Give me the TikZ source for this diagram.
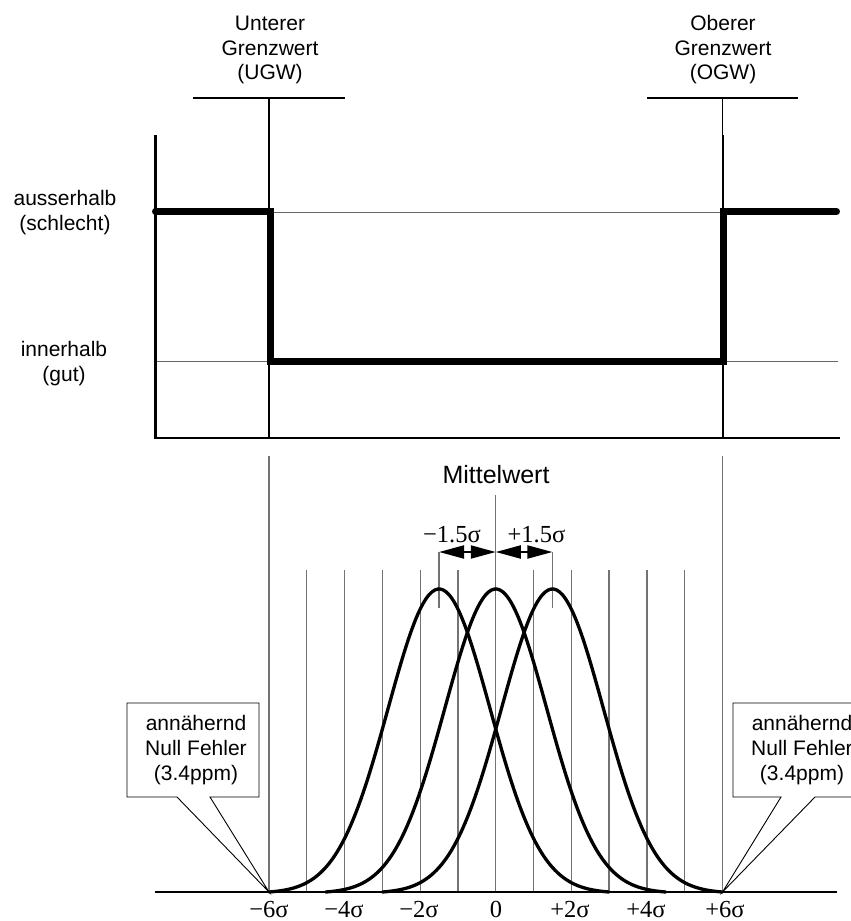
\documentclass[tikz,border=0pt]{standalone}
\usepackage{fontspec}
\setmainfont{Liberation Sans}
\newfontfamily\serifsig{Liberation Serif}
\usetikzlibrary{arrows.meta}
\begin{document}
\begin{tikzpicture}[x=1pt,y=-1pt,
  lbl/.style={font=\fontsize{21}{25}\selectfont, inner sep=0pt, anchor=base},
  big/.style={font=\fontsize{25}{30}\selectfont, inner sep=0pt, anchor=base},
  sig/.style={font=\serifsig\fontsize{24.5}{28}\selectfont, inner sep=0pt, anchor=base},
  gridline/.style={line width=1.3pt, draw=black!55},
  thinline/.style={line width=1pt, draw=black!60},
  axisline/.style={line width=2.5pt, draw=black},
  stepline/.style={line width=7pt, draw=black, line cap=round, line join=miter},
  curve/.style={line width=3.3pt, draw=black, line cap=round},
  callout/.style={line width=0.9pt, draw=black, fill=white, line join=miter},
  dblarrow/.style={line width=2pt, {Triangle[length=25pt,width=13pt]}-{Triangle[length=25pt,width=13pt]}}
]
\useasboundingbox (0,0) rectangle (851,921);
\clip (0,0) rectangle (851,921);

% ---------- top panel ----------
\coordinate (ugwTop) at (269,98);
\coordinate (ogwTop) at (722.5,98);
\coordinate (ugwMid) at (269,135);
\coordinate (ogwMid) at (722.5,135);
\coordinate (ugwAx) at (269,438);
\coordinate (ogwAx) at (722.5,438);
\coordinate (axTop) at (155.5,135);
\coordinate (axOrig) at (155.5,438);
\coordinate (axEnd) at (840,438);

% thin reference lines
\draw[thinline] (269,212) -- (722.5,212);
\draw[thinline] (155.5,361) -- (269,361);
\draw[thinline] (722.5,361) -- (838,361);

% limit markers
\draw[line width=1.6pt] (193,98) -- (345,98);
\draw[line width=1.6pt] (647,98) -- (798,98);
\draw[line width=1.2pt] (ugwTop) -- (ugwMid);
\draw[line width=1.2pt] (ogwTop) -- (ogwMid);
\draw[line width=2pt] (ugwMid) -- (ugwAx);
\draw[line width=2pt] (ogwMid) -- (ogwAx);

% axes
\draw[axisline] (axTop) -- (axOrig) -- (axEnd);

% step function
\draw[stepline] (155.5,211.5) -- (270.5,211.5) -- (270.5,361) -- (723.5,361) -- (723.5,211.5) -- (836.5,211.5);

% labels top
\node[lbl] (u1) at (270,30) {Unterer};
\node[lbl] (u2) at (270,55) {Grenzwert};
\node[lbl] (u3) at (270,79.5) {(UGW)};
\node[lbl] (o1) at (723,30) {Oberer};
\node[lbl] (o2) at (723,55) {Grenzwert};
\node[lbl] (o3) at (723,79.5) {(OGW)};

\node[lbl] (a1) at (65,205) {ausserhalb};
\node[lbl] (a2) at (65,230.5) {(schlecht)};
\node[lbl] (i1) at (64,356.5) {innerhalb};
\node[lbl] (i2) at (64,381.5) {(gut)};

% ---------- bottom panel ----------
\def\cx{495.75}
\def\sg{37.79}
\coordinate (base0) at (155,892);
\coordinate (base1) at (837,892);
\coordinate (lsl) at (269,892);
\coordinate (usl) at (722.5,892);

% grid lines
\foreach \k in {-5,-4,-3,-2,-1,1,2,3,4,5}{
  \draw[gridline] ({\cx+\sg*\k},570) -- ({\cx+\sg*\k},892);
}
\draw[gridline] (\cx,495) -- (\cx,892);
\draw[gridline] (269,456) -- (lsl);
\draw[gridline] (722.5,456) -- (usl);
% shift markers
\draw[gridline] ({\cx-1.5*\sg},552) -- ({\cx-1.5*\sg},608);
\draw[gridline] ({\cx+1.5*\sg},552) -- ({\cx+1.5*\sg},608);

% baseline
\draw[line width=1.5pt] (base0) -- (base1);

% curves
\foreach \m in {-1.5,0,1.5}{
  \draw[curve] plot[domain=-4.5:4.5, samples=120, smooth]
    ({\cx+\sg*(\m+\x)}, {892-303*(exp(-(\x*\x)/3.645)-0.00386)/(1-0.00386)});
}

% arrows
\coordinate (mL) at ({\cx-1.5*\sg},552);
\coordinate (mC) at (\cx,552);
\coordinate (mR) at ({\cx+1.5*\sg},552);
\draw[dblarrow] (mL) -- (mC);
\draw[dblarrow] (mC) -- (mR);

\node[big] (mw) at (496,483) {Mittelwert};
\node[sig] (sm) at (452,542) {−1.5σ};
\node[sig] (sp) at (536.5,542) {+1.5σ};

% callouts
\draw[callout] (127,703) -- (259,703) -- (259,797) -- (210,797) -- (lsl) -- (177,797) -- (127,797) -- cycle;
\draw[callout] (733,703) -- (866,703) -- (866,797) -- (815,797) -- (usl) -- (781,797) -- (733,797) -- cycle;
\node[lbl] (c1) at (196,730) {annähernd};
\node[lbl] (c2) at (196,755) {Null Fehler};
\node[lbl] (c3) at (196,780) {(3.4ppm)};
\node[lbl] (d1) at (802,730) {annähernd};
\node[lbl] (d2) at (802,755) {Null Fehler};
\node[lbl] (d3) at (802,780) {(3.4ppm)};

% axis labels
\node[sig] (s1) at (269,917) {−6σ};
\node[sig] (s2) at (344,917) {−4σ};
\node[sig] (s3) at (419,917) {−2σ};
\node[sig] (s4) at (496,917) {0};
\node[sig] (s5) at (570,917) {+2σ};
\node[sig] (s6) at (646,917) {+4σ};
\node[sig] (s7) at (725,917) {+6σ};
\end{tikzpicture}
\end{document}
